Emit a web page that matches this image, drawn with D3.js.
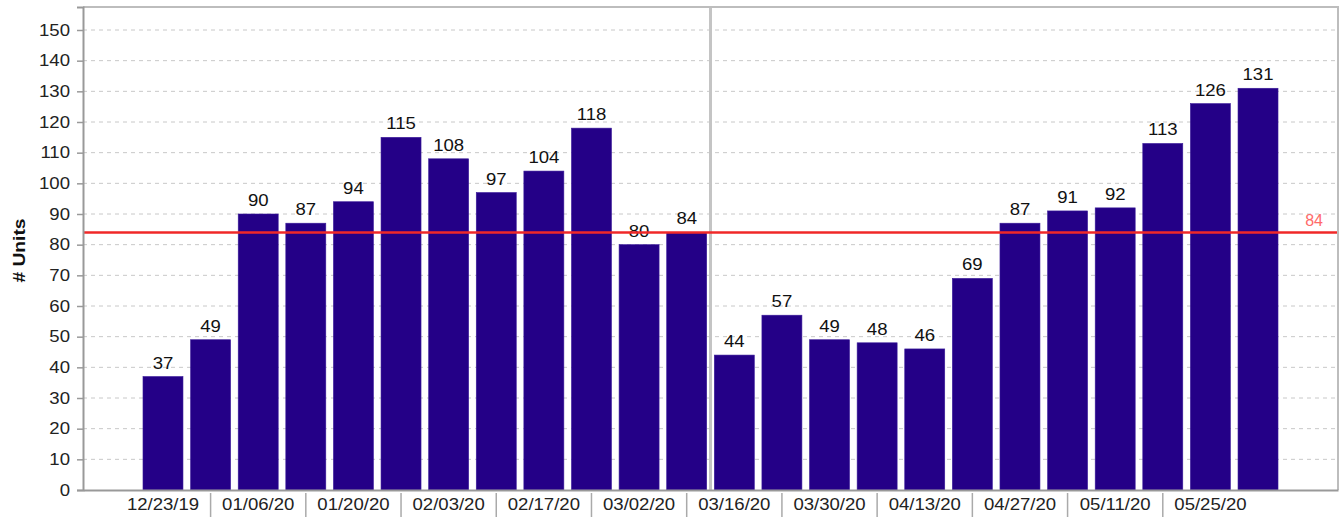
<!DOCTYPE html>
<html><head><meta charset="utf-8">
<script src="https://cdn.jsdelivr.net/npm/d3@7"></script>
<style>body{margin:0;background:#fff}svg{display:block}text{font-family:"Liberation Sans",Arial,sans-serif}</style>
</head><body><svg id="c" width="1342" height="519"></svg>
<script>
const weeks = ["12/23/19","12/30/19","01/06/20","01/13/20","01/20/20","01/27/20","02/03/20","02/10/20","02/17/20","02/24/20","03/02/20","03/09/20","03/16/20","03/23/20","03/30/20","04/06/20","04/13/20","04/20/20","04/27/20","05/04/20","05/11/20","05/18/20","05/25/20","06/01/20"];
const units = [37,49,90,87,94,115,108,97,104,118,80,84,44,57,49,48,46,69,87,91,92,113,126,131];
const yTicks = [0,10,20,30,40,50,60,70,80,90,100,110,120,130,140,150];
const refValue = 84;
const splitBefore = "03/16/20";

const svg = d3.select("#c");
const L = 83, R = 1338, T = 7, B = 490;
const x = d3.scaleBand().domain(weeks).range([L, R]).paddingInner(0.16).paddingOuter(1.26);
const y = d3.scaleLinear().domain([0, 157.5]).range([B, T]);
const sx = 1.16;

// gridlines
svg.append("g").selectAll("line").data(yTicks.filter(d => d > 0)).join("line")
  .attr("x1", L).attr("x2", R).attr("y1", d => y(d)).attr("y2", d => y(d))
  .attr("stroke", "#c8c8c8").attr("stroke-width", 1).attr("stroke-dasharray", "4,4");

// split line
const splitX = (x(splitBefore) + x(weeks[weeks.indexOf(splitBefore)-1]) + x.bandwidth()) / 2;
svg.append("line").attr("x1", splitX).attr("x2", splitX).attr("y1", T).attr("y2", B)
  .attr("stroke", "#c4c4c4").attr("stroke-width", 3);

// bars
svg.append("g").selectAll("rect").data(weeks).join("rect")
  .attr("x", d => x(d)).attr("width", x.bandwidth())
  .attr("y", (d,i) => y(units[i])).attr("height", (d,i) => B - y(units[i]))
  .attr("fill", "#240087").attr("stroke", "#3a1a9a").attr("stroke-width", 0.6);

// bar labels
svg.append("g").selectAll("text").data(weeks).join("text")
  .attr("transform", (d,i) => `translate(${x(d) + x.bandwidth()/2},${y(units[i]) - 8}) scale(${sx},1)`)
  .attr("text-anchor", "middle").attr("font-size", 16).attr("fill", "#111")
  .text((d,i) => units[i]);

// reference line
svg.append("line").attr("x1", L).attr("x2", R).attr("y1", y(refValue)).attr("y2", y(refValue))
  .attr("stroke", "#f02828").attr("stroke-width", 2.5);
svg.append("text").attr("x", 1323).attr("y", y(refValue) - 6).attr("text-anchor", "end")
  .attr("font-size", 16).attr("fill", "#ff6a6a").text(refValue);

// frame
svg.append("path").attr("d", `M${L},${T}H${R}V${B}`).attr("fill", "none").attr("stroke", "#bdbdbd").attr("stroke-width", 2);

// y axis
const yAxis = d3.axisLeft(y).tickValues(yTicks).tickSize(6).tickPadding(7);
const ya = svg.append("g").attr("transform", `translate(${L},0)`).call(yAxis);
ya.select(".domain").attr("stroke", "#999").attr("stroke-width", 2);
ya.selectAll(".tick line").attr("stroke", "#999").attr("stroke-width", 1.5);
ya.selectAll(".tick text").attr("font-size", 16).attr("fill", "#222")
  .attr("font-family", '"Liberation Sans",Arial,sans-serif')
  .each(function(){ const t=d3.select(this); const xx=+t.attr("x"); t.attr("x", null).attr("transform", `translate(${xx},0) scale(${sx},1)`); });

// x axis
const xAxis = d3.axisBottom(x).tickSize(0).tickFormat(() => "");
const xa = svg.append("g").attr("transform", `translate(0,${B})`).call(xAxis);
xa.select(".domain").attr("stroke", "#999").attr("stroke-width", 2);
xa.selectAll(".tick").remove();
const labelWeeks = weeks.filter((d,i) => i % 2 === 0);
const sepWeeks = weeks.filter((d,i) => i % 2 === 1 && i < weeks.length - 1);
xa.append("g").selectAll("text").data(labelWeeks).join("text")
  .attr("transform", d => `translate(${x(d) + x.bandwidth()/2},20) scale(${sx},1)`)
  .attr("text-anchor", "middle").attr("font-size", 16).attr("fill", "#222").text(d => d);
xa.append("g").selectAll("line").data(sepWeeks).join("line")
  .attr("x1", d => x(d) + x.bandwidth()/2).attr("x2", d => x(d) + x.bandwidth()/2)
  .attr("y1", 3).attr("y2", 27).attr("stroke", "#aaa").attr("stroke-width", 1.5);

// y title
svg.append("text").attr("transform", `translate(25,${(T+B)/2 + 2}) rotate(-90) scale(1.2,1)`)
  .attr("text-anchor", "middle").attr("font-size", 16).attr("font-weight", "bold").attr("fill", "#111")
  .text("# Units");
</script></body></html>
